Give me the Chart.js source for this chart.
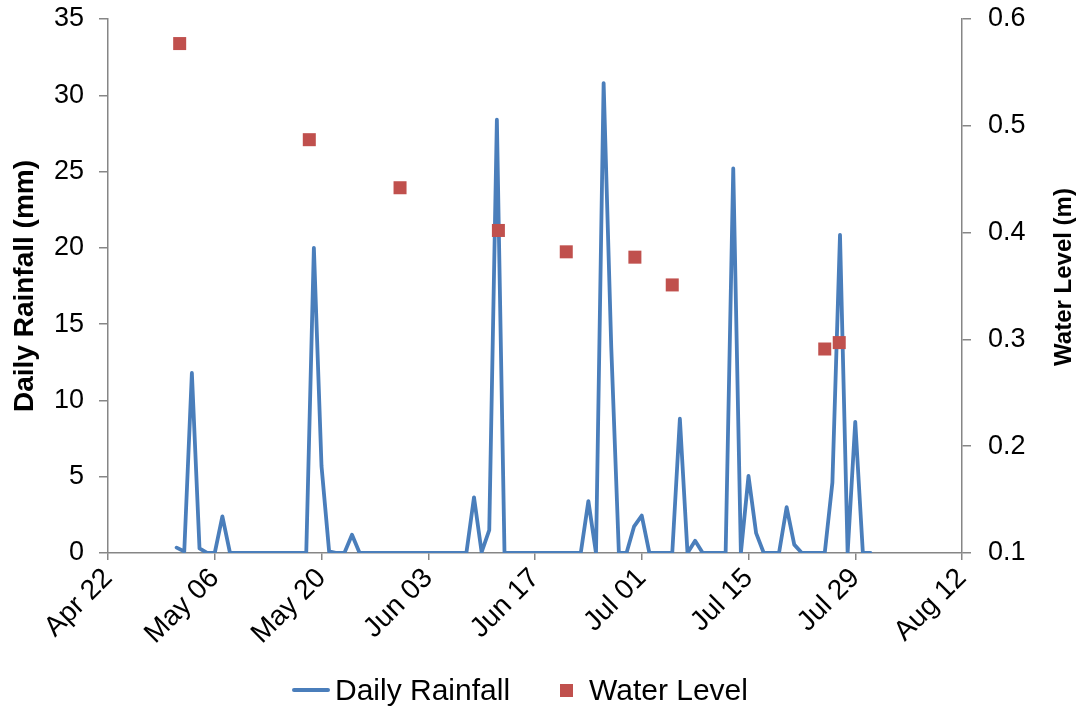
<!DOCTYPE html>
<html>
<head>
<meta charset="utf-8">
<script src="https://cdn.jsdelivr.net/npm/chart.js@4.4.1/dist/chart.umd.min.js"></script>
<style>
  html, body { margin: 0; padding: 0; background: #fff; }
  #wrap { position: relative; width: 1086px; height: 708px; overflow: hidden; }
  #c { position: absolute; left: 0; top: 0; }
  #legend { position: absolute; left: 0; top: 670px; width: 1086px; height: 40px;
    font-family: "Liberation Sans", Arial, sans-serif; font-size: 30px; color: #000; }
  .item { position: absolute; top: 0; height: 40px; display: flex; align-items: center; white-space: nowrap; }
  .lineSym { width: 38px; height: 4px; background: #4a7ebb; margin-right: 5px; border-radius: 2px; }
  .sqSym { width: 13px; height: 13px; background: #c0504d; margin-right: 16px; }
</style>
</head>
<body>
<div id="wrap">
  <canvas id="c" width="1086" height="708"></canvas>
  <div id="legend">
    <div class="item" style="left:292px"><span class="lineSym"></span><span id="lg0"></span></div>
    <div class="item" style="left:560px"><span class="sqSym"></span><span id="lg1"></span></div>
  </div>
</div>
<script>
// ---- data ----
const xTickLabels = ['Apr 22', 'May 06', 'May 20', 'Jun 03', 'Jun 17', 'Jul 01', 'Jul 15', 'Jul 29', 'Aug 12'];
const seriesNames = ['Daily Rainfall', 'Water Level'];
const leftAxisTitle = 'Daily Rainfall (mm)';
const rightAxisTitle = 'Water Level (m)';
// rainfall: one value per day, first value is May 01 (9 days after Apr 22)
const rainfallFirstDay = 9;
const dailyRainfall = [
  0.35, 0.1, 11.8, 0.3, 0, 0, 2.4,
  0, 0, 0, 0, 0, 0, 0, 0, 0, 0, 0,
  20.0, 5.7, 0.1, 0, 0, 1.2,
  0, 0, 0, 0, 0, 0, 0, 0, 0, 0, 0, 0, 0, 0, 0,
  3.65, 0.05, 1.5, 28.4,
  0, 0, 0, 0, 0, 0, 0, 0, 0, 0, 0,
  3.4, 0, 30.8, 13.5, 0, 0, 1.75, 2.45,
  0, 0, 0, 0,
  8.8, 0, 0.8,
  0, 0, 0, 0,
  25.2, 0, 5.05, 1.3, 0, 0, 0, 3.0, 0.55,
  0, 0, 0, 0,
  4.6, 20.85, 0, 8.6, 0, 0
];
// water level: days after Apr 22, and level (m)
const waterLevelDays = [9.4, 26.4, 38.3, 51.2, 60.1, 69.1, 74.0, 94.0, 95.9];
const waterLevel = [0.577, 0.487, 0.442, 0.402, 0.382, 0.377, 0.351, 0.291, 0.297];

// ---- build ----
const rainPts = dailyRainfall.map((v, i) => ({ x: rainfallFirstDay + i, y: v }));
const wlPts = waterLevel.map((v, i) => ({ x: waterLevelDays[i], y: v }));
document.getElementById('lg0').textContent = seriesNames[0];
document.getElementById('lg1').textContent = seriesNames[1];

const FONT = '"Liberation Sans", Arial, sans-serif';
const AXIS = '#868686';
const PLOT = { left: 108, right: 962, top: 19, bottom: 553 };

const rightTitlePlugin = {
  id: 'rightTitle',
  afterDraw(chart) {
    const a = chart.chartArea, ctx = chart.ctx;
    ctx.save();
    ctx.translate(1064, (a.top + a.bottom) / 2 - 9);
    ctx.rotate(-Math.PI / 2);
    ctx.font = 'bold 24px ' + FONT;
    ctx.fillStyle = '#000';
    ctx.textAlign = 'center';
    ctx.textBaseline = 'middle';
    ctx.fillText(rightAxisTitle, 0, 0);
    ctx.restore();
  }
};

function fitVertical(width) {
  return (s) => { s.width = width; s.paddingTop = 0; s.paddingBottom = 0; };
}

new Chart(document.getElementById('c'), {
  data: {
    datasets: [
      {
        type: 'line', label: seriesNames[0], data: rainPts, yAxisID: 'y',
        borderColor: '#4a7ebb', borderWidth: 3.8, pointRadius: 0, tension: 0,
        borderJoinStyle: 'round', borderCapStyle: 'round', order: 2
      },
      {
        type: 'scatter', label: seriesNames[1], data: wlPts, yAxisID: 'y1',
        backgroundColor: '#c0504d', borderColor: '#c0504d', borderWidth: 0,
        pointStyle: 'rect', pointRadius: 9.2, order: 1
      }
    ]
  },
  options: {
    responsive: false, animation: false,
    layout: { padding: { top: PLOT.top, left: 0, right: 0, bottom: 0 } },
    plugins: { legend: { display: false }, tooltip: { enabled: false } },
    scales: {
      x: {
        type: 'linear', min: 0, max: 112,
        afterBuildTicks(s) { s.ticks = xTickLabels.map((_, i) => ({ value: i * 14 })); },
        afterFit(s) { s.height = 708 - PLOT.bottom; s.paddingLeft = 0; s.paddingRight = 0; },
        ticks: {
          callback: (v) => xTickLabels[Math.round(v / 14)],
          minRotation: 45, maxRotation: 45, autoSkip: false,
          font: { family: FONT, size: 28 }, color: '#000', padding: 2
        },
        grid: { drawOnChartArea: false, drawTicks: true, tickLength: 7, color: AXIS, lineWidth: 1.5 },
        border: { color: AXIS, width: 1.5 }
      },
      y: {
        position: 'left', min: 0, max: 35,
        afterFit: fitVertical(PLOT.left),
        ticks: { stepSize: 5, font: { family: FONT, size: 27 }, color: '#000', padding: 15 },
        grid: { drawOnChartArea: false, drawTicks: true, tickLength: 9, color: AXIS, lineWidth: 1.5 },
        border: { color: AXIS, width: 1.5 },
        title: { display: true, text: leftAxisTitle, font: { family: FONT, size: 28, weight: 'bold' }, color: '#000', padding: { top: 8, bottom: 0 } }
      },
      y1: {
        position: 'right', min: 0.1, max: 0.6,
        afterFit: fitVertical(1086 - PLOT.right),
        ticks: { stepSize: 0.1, callback: (v) => v.toFixed(1), font: { family: FONT, size: 27 }, color: '#000', padding: 17 },
        grid: { drawOnChartArea: false, drawTicks: true, tickLength: 9, color: AXIS, lineWidth: 1.5 },
        border: { color: AXIS, width: 1.5 }
      }
    }
  },
  plugins: [rightTitlePlugin]
});
</script>
</body>
</html>
